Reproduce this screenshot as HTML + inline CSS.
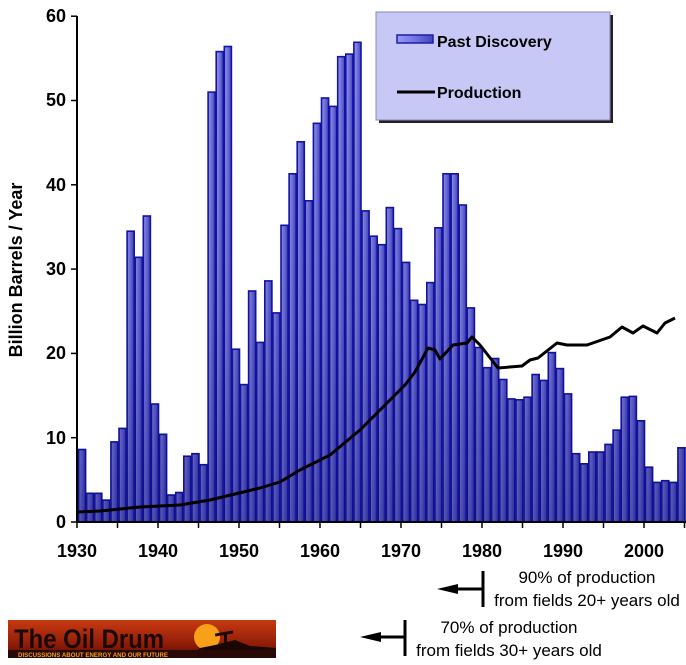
<!DOCTYPE html>
<html><head><meta charset="utf-8"><style>
body{margin:0;background:#fff;width:686px;height:665px;overflow:hidden}
svg{display:block;font-family:"Liberation Sans",sans-serif}
</style></head><body>
<svg width="686" height="665" viewBox="0 0 686 665" xmlns="http://www.w3.org/2000/svg">
<defs>
<linearGradient id="bg" x1="0" x2="1" y1="0" y2="0">
<stop offset="0" stop-color="#9a9af4"/><stop offset="0.5" stop-color="#7474e0"/><stop offset="1" stop-color="#4444bc"/>
</linearGradient>
<linearGradient id="shade" x1="0" x2="0" y1="0" y2="1">
<stop offset="0" stop-color="#000060" stop-opacity="0"/><stop offset="0.6" stop-color="#000060" stop-opacity="0.15"/><stop offset="1" stop-color="#000060" stop-opacity="0.4"/>
</linearGradient>
<linearGradient id="logo" x1="0" x2="0" y1="0" y2="1">
<stop offset="0" stop-color="#c83a10"/><stop offset="0.7" stop-color="#8a1a08"/><stop offset="1" stop-color="#3a0a02"/>
</linearGradient>
</defs>
<g id="bars" stroke="#1414a4" stroke-width="1.6" fill="url(#bg)"></g>
<rect x="78" y="16" width="608" height="506" fill="url(#shade)"/>
<polyline fill="none" stroke="#000" stroke-width="3" stroke-linejoin="round" points="78,512 100,511 140,507 180,505 210,500 235,494 260,488 280,482 300,470 330,455 360,430 380,410 393,397 405,385 415,372 428,348 435,350 440,359 453,345 467,343 472,337 480,345 498,368 522,366 530,360 538,358 557,343 567,345 587,345 610,337 622,327 633,333 643,326 657,333 665,323 675,318"/>
<g stroke="#000" stroke-width="2">
<line x1="77" y1="16" x2="77" y2="523"/>
<line x1="77" y1="522" x2="686" y2="522"/>
</g>
<g id="ticks" stroke="#000" stroke-width="1.5"></g>
<g font-weight="bold" font-size="18" text-anchor="end">
<text x="66" y="528">0</text><text x="66" y="444">10</text><text x="66" y="359">20</text>
<text x="66" y="275">30</text><text x="66" y="191">40</text><text x="66" y="106">50</text><text x="66" y="22">60</text>
</g>
<g font-weight="bold" font-size="18" text-anchor="middle">
<text x="77" y="557">1930</text><text x="158" y="557">1940</text><text x="239" y="557">1950</text>
<text x="320" y="557">1960</text><text x="401" y="557">1970</text><text x="482" y="557">1980</text>
<text x="563" y="557">1990</text><text x="644" y="557">2000</text>
</g>
<text transform="translate(22,270) rotate(-90)" text-anchor="middle" font-weight="bold" font-size="18">Billion Barrels / Year</text>
<rect x="379" y="15" width="234" height="108" fill="#222"/>
<rect x="376" y="12" width="234" height="108" fill="#c8c8f6" stroke="#8888bb" stroke-width="1"/>
<rect x="397" y="35" width="36" height="8" fill="url(#bg)" stroke="#1c1cae" stroke-width="1.5"/>
<text x="437" y="47" font-weight="bold" font-size="16">Past Discovery</text>
<line x1="397" y1="92" x2="435" y2="92" stroke="#000" stroke-width="3"/>
<text x="437" y="98" font-weight="bold" font-size="16">Production</text>
<g stroke="#000" stroke-width="3">
<line x1="483" y1="571" x2="483" y2="607"/><line x1="452" y1="589" x2="483" y2="589"/>
<line x1="405" y1="620" x2="405" y2="656"/><line x1="375" y1="637" x2="405" y2="637"/>
</g>
<polygon points="437,589 458,584 458,594" fill="#000"/>
<polygon points="360,637 381,632 381,642" fill="#000"/>
<g font-size="17" text-anchor="middle">
<text x="587" y="583">90% of production</text><text x="587" y="606">from fields 20+ years old</text>
<text x="509" y="633">70% of production</text><text x="509" y="656">from fields 30+ years old</text>
</g>
<rect x="8" y="620" width="268" height="38" fill="url(#logo)"/>
<circle cx="207" cy="637" r="13" fill="#f8a018"/>
<rect x="215" y="632" width="18" height="3" fill="#1a0a02" transform="rotate(-10 224 633)"/>
<rect x="224" y="634" width="3" height="16" fill="#1a0a02"/>
<path d="M190,658 L200,648 L215,645 L235,640 L250,646 L276,648 L276,658Z" fill="#1a0602"/>
<text x="14" y="648" font-size="27" font-weight="bold" fill="#1a0a05" textLength="150" lengthAdjust="spacingAndGlyphs">The Oil Drum</text>
<rect x="8" y="650" width="268" height="8" fill="#2a0804"/>
<text x="18" y="657" font-size="6.5" font-weight="bold" fill="#f0a020" textLength="150" lengthAdjust="spacingAndGlyphs">DISCUSSIONS ABOUT ENERGY AND OUR FUTURE</text>
</svg>
<script>
var v=[8.6,3.4,3.4,2.6,9.5,11.1,34.5,31.4,36.3,14,10.4,3.2,3.5,7.8,8.1,6.8,51,55.8,56.4,20.5,16.3,27.4,21.3,28.6,24.8,35.2,41.3,45.1,38.1,47.3,50.3,49.3,55.2,55.5,56.9,36.9,33.9,32.9,37.3,34.8,30.8,26.3,25.8,28.4,34.9,41.3,41.3,37.6,25.4,20.7,18.3,19.4,16.9,14.6,14.5,14.8,17.5,16.8,20.1,18.2,15.2,8.1,6.9,8.3,8.3,9.2,10.9,14.8,14.9,12.0,6.5,4.7,4.9,4.7,8.8];
var g=document.getElementById('bars'),s='';
for(var i=0;i<v.length;i++){var h=v[i]*8.43;s+='<rect x="'+(78.5+i*8.1).toFixed(1)+'" y="'+(522-h).toFixed(1)+'" width="7.1" height="'+h.toFixed(1)+'"/>';}
g.innerHTML=s;
var sh=document.querySelector('rect[fill="url(#shade)"]');
var ns='http://www.w3.org/2000/svg',cp=document.createElementNS(ns,'clipPath');cp.setAttribute('id','bc');cp.innerHTML=s;
document.querySelector('defs').appendChild(cp);sh.setAttribute('clip-path','url(#bc)');
var t='';for(var k=0;k<=60;k+=10){var y=522-k*8.43;t+='<line x1="71" x2="77" y1="'+y+'" y2="'+y+'"/>';}
for(var x=77;x<=686;x+=40.5){t+='<line x1="'+x+'" x2="'+x+'" y1="522" y2="528"/>';}
document.getElementById('ticks').innerHTML=t;
</script>
</body></html>
